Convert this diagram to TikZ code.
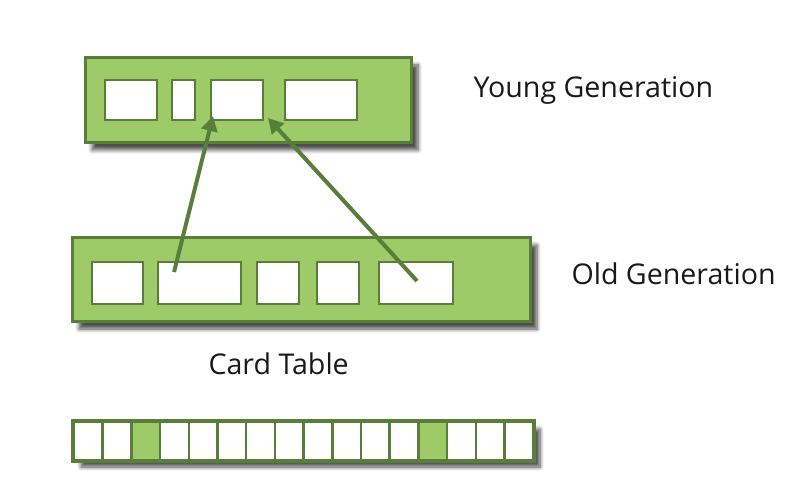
\documentclass[tikz,border=0pt]{standalone}
\usepackage{fontspec}
\setmainfont{Open Sans}
\usepackage{tikz}
\usetikzlibrary{shadows.blur,arrows.meta}

\definecolor{gengreen}{RGB}{158,202,104}
\definecolor{gendark}{RGB}{88,126,58}

\tikzset{
  genbox/.style={draw=gendark, line width=3pt, fill=gengreen, inner sep=0pt,
    blur shadow={shadow xshift=7pt, shadow yshift=-7pt, shadow blur steps=6,
      shadow blur radius=4pt, shadow opacity=70}},
  objbox/.style={draw=gendark, line width=2pt, fill=white, inner sep=0pt},
  cardcell/.style={draw=gendark, line width=2.5pt, fill=white, inner sep=0pt,
    minimum width=28.7pt, minimum height=38pt},
  ref/.style={draw=gendark, line width=4pt, -{Triangle[length=15pt,width=16pt]}},
  genlabel/.style={anchor=base west, font=\fontsize{28.6}{34}\selectfont, text=black!90}
}

\begin{document}
\begin{tikzpicture}[x=1pt,y=-1pt]
\useasboundingbox (0,0) rectangle (800,502);

% young generation
\node[genbox, minimum width=326pt, minimum height=85pt] (young) at (248,100.5) {};
\node[objbox, minimum width=52pt, minimum height=40pt] (y1) at (131,100) {};
\node[objbox, minimum width=23pt, minimum height=40pt] (y2) at (183.5,100) {};
\node[objbox, minimum width=52pt, minimum height=40pt] (y3) at (237,100) {};
\node[objbox, minimum width=72pt, minimum height=40pt] (y4) at (321,100) {};
\node[genlabel] (younglabel) at (470,98) {Young Generation};

% old generation
\node[genbox, minimum width=458pt, minimum height=84pt] (old) at (301,280) {};
\node[objbox, minimum width=51pt, minimum height=42pt] (o1) at (117.5,283) {};
\node[objbox, minimum width=83pt, minimum height=42pt] (o2) at (199.5,283) {};
\node[objbox, minimum width=42pt, minimum height=42pt] (o3) at (278,283) {};
\node[objbox, minimum width=42pt, minimum height=42pt] (o4) at (338,283) {};
\node[objbox, minimum width=74pt, minimum height=42pt] (o5) at (416,283) {};
\node[genlabel] (oldlabel) at (568,285) {Old Generation};

% references from old to young
\draw[ref] ([xshift=17pt,yshift=-11pt]o2.north west) -- ([xshift=3pt,yshift=5pt]y3.south west);
\draw[ref] ([xshift=39pt,yshift=-20pt]o5.north west) -- ([xshift=4pt,yshift=3pt]y3.south east);

% card table
\node[genlabel] (cardlabel) at (205,374) {Card Table};
\node[genbox, minimum width=459pt, minimum height=38pt] (card) at (303.5,441) {};
\foreach \i in {0,...,15} {
  \ifnum\i=2 \def\cellfill{gengreen}\else\ifnum\i=12 \def\cellfill{gengreen}\else\def\cellfill{white}\fi\fi
  \node[cardcell, fill=\cellfill] (c\i) at ({74+28.7*(\i+0.5)},441) {};
}
\draw[gendark, line width=3pt] (card.north west) rectangle (card.south east);

\end{tikzpicture}
\end{document}
